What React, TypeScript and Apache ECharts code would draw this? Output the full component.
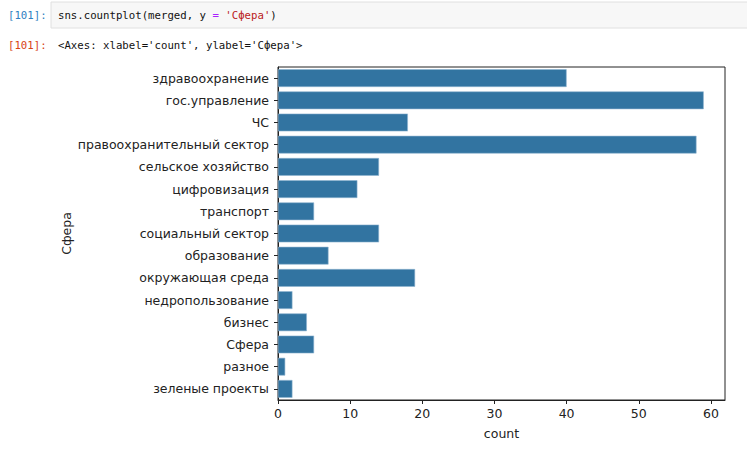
import React, { useEffect, useRef } from "react";
import * as echarts from "echarts";

const categories = [
  "здравоохранение",
  "гос.управление",
  "ЧС",
  "правоохранительный сектор",
  "сельское хозяйство",
  "цифровизация",
  "транспорт",
  "социальный сектор",
  "образование",
  "окружающая среда",
  "недропользование",
  "бизнес",
  "Сфера",
  "разное",
  "зеленые проекты",
];
const counts = [40, 59, 18, 58, 14, 11, 5, 14, 7, 19, 2, 4, 5, 1, 2];
const xTicks = [0, 10, 20, 30, 40, 50, 60];
const codeLine = ["sns.countplot(merged, y ", "=", " 'Сфера'", ")"];
const outputLine = "<Axes: xlabel='count', ylabel='Сфера'>";
const promptText = "[101]:";

export default function App() {
  const ref = useRef<HTMLDivElement>(null);
  useEffect(() => {
    if (!ref.current) return;
    const chart = echarts.init(ref.current, null, { renderer: "svg" });
    const mono = "'DejaVu Sans Mono', 'Liberation Mono', monospace";
    const sans = "'DejaVu Sans', sans-serif";
    chart.setOption({
      animation: false,
      backgroundColor: "#ffffff",
      grid: {
        left: 278,
        right: 22,
        top: 67,
        bottom: 60,
        show: true,
        borderColor: "#222",
        borderWidth: 1,
        backgroundColor: "transparent",
      },
      xAxis: {
        type: "value",
        min: 0,
        max: 61.95,
        interval: 10,
        name: "count",
        nameLocation: "middle",
        nameGap: 27,
        nameTextStyle: { fontFamily: sans, fontSize: 12.5, color: "#222" },
        splitLine: { show: false },
        axisLine: { show: true, lineStyle: { color: "#222", width: 1 } },
        axisTick: { show: true, length: 4, lineStyle: { color: "#222" } },
        axisLabel: {
          fontFamily: sans,
          fontSize: 12.5,
          color: "#222",
          margin: 7,
          showMaxLabel: false,
          formatter: (v: number) => (xTicks.includes(v) ? String(v) : ""),
        },
      },
      yAxis: {
        type: "category",
        data: categories,
        inverse: true,
        name: "Сфера",
        nameLocation: "middle",
        nameGap: 205,
        nameMoveOverlap: false,
        nameRotate: 90,
        nameTextStyle: { fontFamily: sans, fontSize: 12.5, color: "#222" },
        axisLine: { show: true, lineStyle: { color: "#222", width: 1 } },
        axisTick: { show: true, alignWithLabel: true, length: 4, lineStyle: { color: "#222" } },
        axisLabel: { fontFamily: sans, fontSize: 12.5, color: "#222", margin: 9 },
      },
      series: [
        {
          type: "bar",
          data: counts,
          barCategoryGap: "20%",
          itemStyle: { color: "#3274a1", borderColor: "#8fb4d0", borderWidth: 0.6 },
        },
      ],
      graphic: [
        {
          type: "rect",
          shape: { x: 51, y: 2, width: 700, height: 26 },
          style: { fill: "#f7f7f7", stroke: "#e0e0e0", lineWidth: 1 },
        },
        {
          type: "text",
          x: 8,
          y: 15,
          style: {
            text: promptText,
            fontFamily: mono,
            fontSize: 10.7,
            fill: "#307fc1",
            verticalAlign: "middle",
          },
        },
        {
          type: "text",
          x: 58,
          y: 15,
          style: {
            text: `{a|${codeLine[0]}}{b|${codeLine[1]}}{c|${codeLine[2]}}{a|${codeLine[3]}}`,
            verticalAlign: "middle",
            rich: {
              a: { fontFamily: mono, fontSize: 10.7, fill: "#111" },
              b: { fontFamily: mono, fontSize: 10.7, fill: "#aa22ff" },
              c: { fontFamily: mono, fontSize: 10.7, fill: "#ba2121" },
            },
          },
        },
        {
          type: "text",
          x: 8,
          y: 45,
          style: {
            text: promptText,
            fontFamily: mono,
            fontSize: 10.7,
            fill: "#d84315",
            verticalAlign: "middle",
          },
        },
        {
          type: "text",
          x: 58,
          y: 45,
          style: {
            text: outputLine,
            fontFamily: mono,
            fontSize: 10.7,
            fill: "#111",
            verticalAlign: "middle",
          },
        },
      ],
    });
    return () => chart.dispose();
  }, []);
  return (
    <div
      ref={ref}
      style={{ position: "absolute", left: 0, top: 0, width: 747, height: 460, background: "#fff" }}
    />
  );
}
